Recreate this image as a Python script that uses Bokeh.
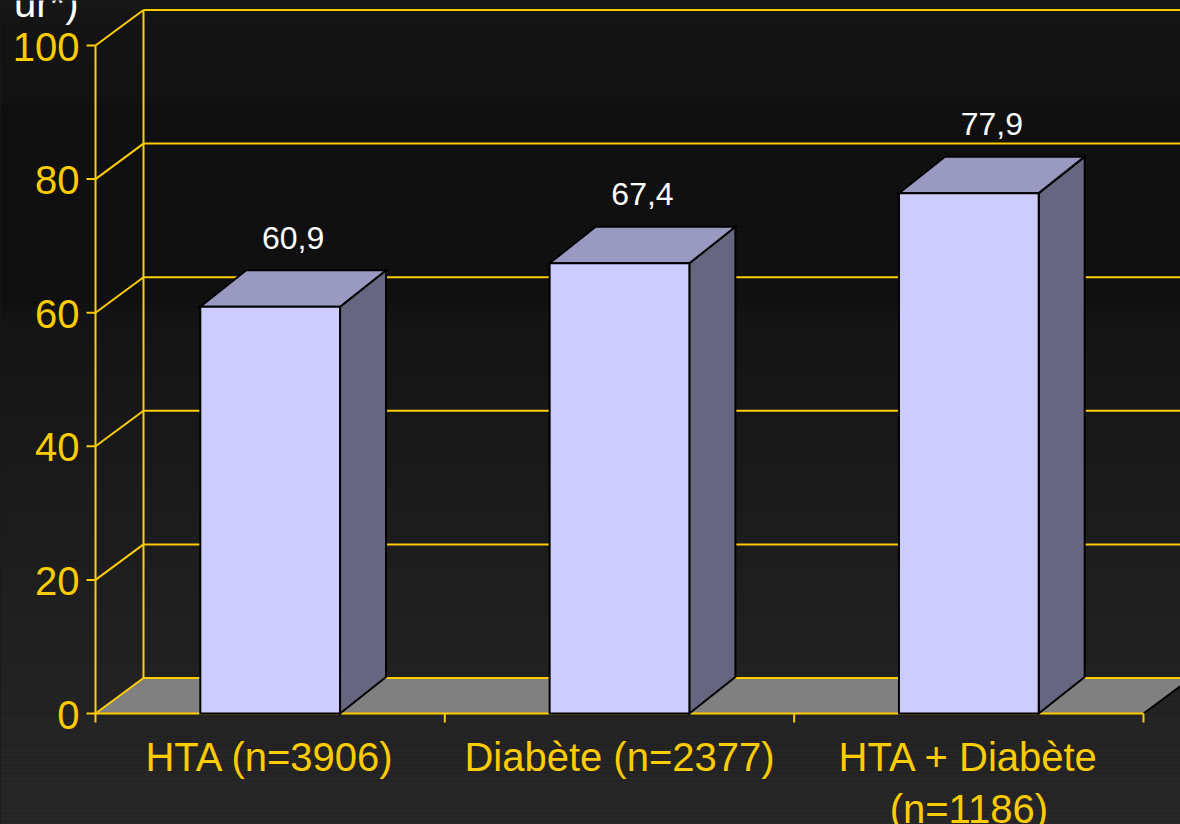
import numpy as np
from bokeh.plotting import figure
from bokeh.models import Range1d, GlobalInlineStyleSheet
from bokeh.core.properties import value
from bokeh.embed import file_html
from bokeh.resources import INLINE

# ---------------- data ----------------
categories = ["HTA (n=3906)", "Diabète (n=2377)", "HTA + Diabète\n(n=1186)"]
values = [60.9, 67.4, 77.9]
value_labels = ["60,9", "67,4", "77,9"]
y_ticks = [0, 20, 40, 60, 80, 100]
y_tick_labels = ["0", "20", "40", "60", "80", "100"]
top_note = "ur*)"

# ---------------- layout constants ----------------
W, H = 1180, 824
PX_X = 349.33          # pixels per category
PX_Y = 6.68            # pixels per percent
OX, OY = 95, 713       # pixel position of the origin
WDX, WDY = 48 / PX_X, 35.5 / PX_Y   # wall depth offset (data units)
BDX, BDY = 46 / PX_X, 36.5 / PX_Y   # bar depth offset (data units)
BAR_HALF = 0.2
YELLOW = "#FFCC00"
FONT = "Liberation Sans"

x0, x1 = -OX / PX_X, (W - OX) / PX_X
y0, y1 = -(H - OY) / PX_Y, OY / PX_Y
n = len(categories)
YMAX = y_ticks[-1]

p = figure(width=W, height=H, output_backend="svg", toolbar_location=None,
           x_range=Range1d(x0, x1), y_range=Range1d(y0, y1),
           x_axis_location=None, y_axis_location=None,
           min_border=0, outline_line_color=None,
           background_fill_color="#1a1a1a", border_fill_color="#1a1a1a")
p.grid.visible = False
p.stylesheets = [GlobalInlineStyleSheet(css="html,body{margin:0;padding:0;background:#1a1a1a;overflow:hidden;}")]

# ---------------- background gradient (bands) ----------------
stop_px = [0, 10, 30, 100, 106, 305, 312, 500, 700, 824]
stop_g = [0x18, 0x15, 0x13, 0x12, 0x0f, 0x0f, 0x13, 0x1b, 0x23, 0x27]
band = 4
tops_px = np.arange(0, H, band)
g = np.interp(tops_px + band / 2, stop_px, stop_g).round().astype(int)
cols = ["#%02x%02x%02x" % (v, v, v) for v in g]
p.quad(left=x0, right=x1, top=[(OY - t) / PX_Y for t in tops_px],
       bottom=[(OY - t - band) / PX_Y for t in tops_px],
       fill_color=cols, line_color=None)

# ---------------- floor ----------------
p.patch([0, n, n + WDX, WDX], [0, 0, WDY, WDY], fill_color="#808080", line_color=None)
p.segment(x0=[n], y0=[0], x1=[n + WDX], y1=[WDY], line_color="black", line_width=2)

# ---------------- back wall grid + side diagonals ----------------
p.segment(x0=[WDX] * len(y_ticks), y0=[t + WDY for t in y_ticks],
          x1=[x1 + 1] * len(y_ticks), y1=[t + WDY for t in y_ticks],
          line_color=YELLOW, line_width=2)
p.segment(x0=[0] * len(y_ticks), y0=y_ticks,
          x1=[WDX] * len(y_ticks), y1=[t + WDY for t in y_ticks],
          line_color=YELLOW, line_width=2)
p.segment(x0=[WDX], y0=[WDY], x1=[WDX], y1=[YMAX + WDY], line_color=YELLOW, line_width=2)

# ---------------- front axes ----------------
p.segment(x0=[0], y0=[0], x1=[0], y1=[YMAX], line_color=YELLOW, line_width=2)
p.segment(x0=[0], y0=[0], x1=[n], y1=[0], line_color=YELLOW, line_width=2)
p.segment(x0=[-9 / PX_X] * len(y_ticks), y0=y_ticks, x1=[0] * len(y_ticks), y1=y_ticks,
          line_color=YELLOW, line_width=2)
bx = list(range(n + 1))
p.segment(x0=bx, y0=[0] * len(bx), x1=bx, y1=[-9 / PX_Y] * len(bx),
          line_color=YELLOW, line_width=2)
p.text(x=[-16 / PX_X] * len(y_ticks), y=[t - 1 / PX_Y for t in y_ticks], text=y_tick_labels,
       text_align="right", text_baseline="middle", text_color=YELLOW,
       text_font=value(FONT), text_font_size="40px")

# ---------------- category labels ----------------
cx = [i + 0.5 for i in range(n)]
p.text(x=cx, y=[-21 / PX_Y] * n, text=categories, text_align="center",
       text_baseline="top", text_color=YELLOW, text_font=value(FONT),
       text_font_size="40px", text_line_height=1.2)

# ---------------- 3D bars ----------------
lefts = [c - BAR_HALF for c in cx]
rights = [c + BAR_HALF for c in cx]
p.patches(xs=[[r, r + BDX, r + BDX, r] for r in rights],
          ys=[[0, BDY, v + BDY, v] for v in values],
          fill_color="#666680", line_color="black", line_width=2, line_join="miter")
p.patches(xs=[[l, r, r + BDX, l + BDX] for l, r in zip(lefts, rights)],
          ys=[[v, v, v + BDY, v + BDY] for v in values],
          fill_color="#9999C2", line_color="black", line_width=2, line_join="miter")
p.quad(left=lefts, right=rights, bottom=0, top=values,
       fill_color="#CCCCFF", line_color="black", line_width=2, line_join="miter")

# ---------------- value labels ----------------
p.text(x=[c + BDX / 2 for c in cx], y=[v + 69 / PX_Y for v in values], text=value_labels,
       text_align="center", text_baseline="middle", text_color="white",
       text_font=value(FONT), text_font_size="32px")

# ---------------- cropped note at top-left ----------------
p.text(x=[-17 / PX_X], y=[(OY - 2) / PX_Y], text=[top_note], text_align="right",
       text_baseline="middle", text_color="white", text_font=value(FONT),
       text_font_size="40px")

open("out.html", "w").write(file_html(p, INLINE))
